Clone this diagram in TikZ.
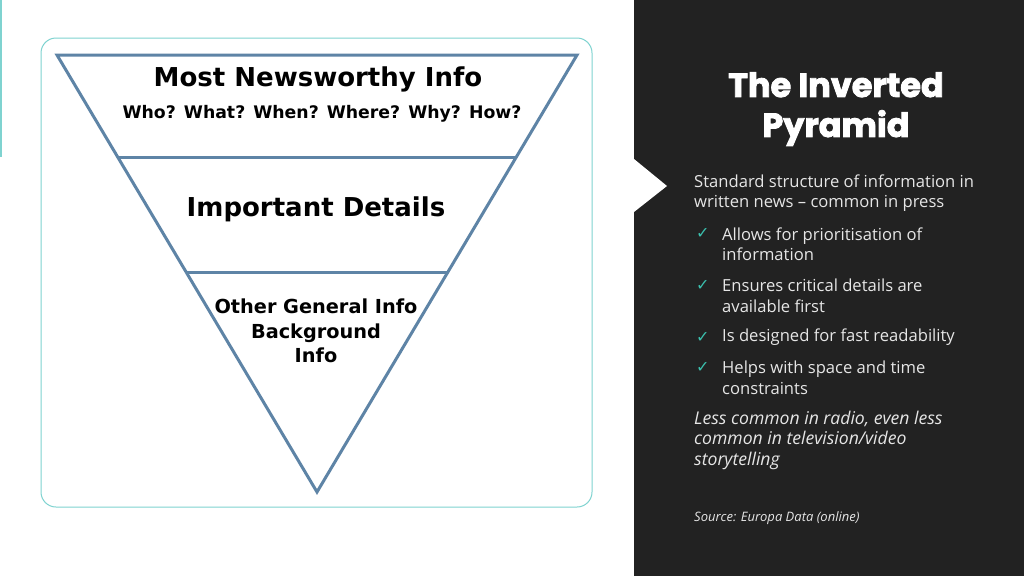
\documentclass[tikz,border=0pt]{standalone}
\usepackage{fontspec}
\setmainfont{DejaVu Sans}
\newfontfamily\bodyfont{Open Sans}
\newfontfamily\titlefont{Poppins}[BoldFeatures={FakeBold=2.5}]
\newfontfamily\symfont{DejaVu Sans}
\definecolor{teal}{HTML}{7FD3D0}
\definecolor{steel}{HTML}{5E84A6}
\definecolor{panel}{HTML}{222222}
\definecolor{check}{HTML}{3BBFAD}
\definecolor{bodytxt}{HTML}{E6E6E6}
\begin{document}
\begin{tikzpicture}[x=1pt,y=-1pt,
  tier/.style={font=\bfseries, text=black, align=center},
  body/.style={font=\bodyfont\fontsize{16.6}{20.5}\selectfont, text=bodytxt, anchor=west, align=left, inner sep=0pt},
  tick/.style={font=\symfont\fontsize{16}{16}\selectfont, text=check, anchor=west, inner sep=0pt},
  edge/.style={draw=steel, line width=3pt, line join=miter}]
\useasboundingbox (0,0) rectangle (1024,576);
\fill[white] (0,0) rectangle (1024,576);
% left accent line
\draw[teal, line width=1.3pt] (1,0) -- (1,157);
% frame
\draw[teal, line width=1pt, rounded corners=15pt] (41,38) rectangle (592,507);
% pyramid
\coordinate (tl) at (57,55);
\coordinate (tr) at (577,55);
\coordinate (ap) at (317,492);
\draw[edge] (tl) -- (tr) -- (ap) -- cycle;
\coordinate (l1) at (118,157);
\coordinate (r1) at (516,157);
\coordinate (l2) at (186,272);
\coordinate (r2) at (448,272);
\draw[edge] (l1) -- (r1);
\draw[edge] (l2) -- (r2);
\node[tier, font=\bfseries\fontsize{26}{30}\selectfont] (t1) at (318,79.5) {Most Newsworthy Info};
\node[tier, font=\bfseries\fontsize{17.3}{20}\selectfont] (t1b) at (322,114) {Who? What? When? Where? Why? How?};
\node[tier, font=\bfseries\fontsize{26}{30}\selectfont] (t2) at (316,209.5) {Important Details};
\node[tier, font=\bfseries\fontsize{19.3}{24.5}\selectfont] (t3) at (316,331) {Other General Info\\Background\\Info};
% right panel
\fill[panel] (634,0) rectangle (1024,576);
\fill[white] (634,159) -- (667,186) -- (634,212) -- cycle;
\node[font=\titlefont\bfseries\fontsize{33.5}{40}\selectfont, text=white, align=center] (title) at (836,109) {The Inverted\\Pyramid};
\node[body] (s1) at (694,193) {Standard structure of information in\\written news – common in press};
\node[tick] (c1) at (696,233) {✓};
\node[body] (b1) at (722,244) {Allows for prioritisation of\\information};
\node[tick] (c2) at (696,285) {✓};
\node[body] (b2) at (722,296) {Ensures critical details are\\available first};
\node[tick] (c3) at (696,337) {✓};
\node[body] (b3) at (722,337) {Is designed for fast readability};
\node[tick] (c4) at (696,367) {✓};
\node[body] (b4) at (722,378) {Helps with space and time\\constraints};
\node[body, font=\bodyfont\itshape\fontsize{17.6}{20.5}\selectfont] (n1) at (694,440) {Less common in radio, even less\\common in television/video\\storytelling};
\node[body, font=\bodyfont\itshape\fontsize{13}{14}\selectfont] (src) at (694,518) {Source: Europa Data (online)};
\end{tikzpicture}
\end{document}
